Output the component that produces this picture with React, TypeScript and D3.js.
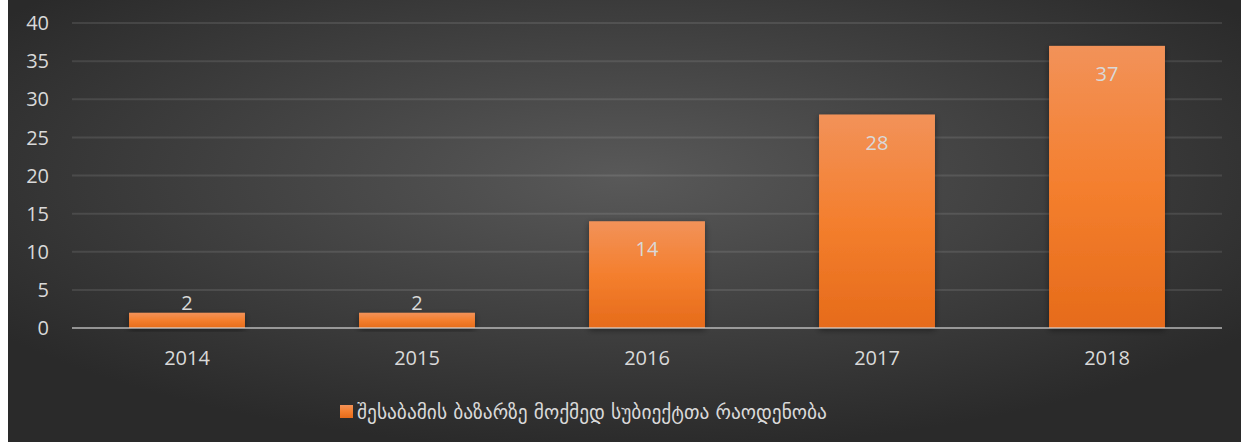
import React from "react";
import * as d3 from "d3";

const categories = ["2014", "2015", "2016", "2017", "2018"];
const values = [2, 2, 14, 28, 37];
const yTicks = [0, 5, 10, 15, 20, 25, 30, 35, 40];
const seriesName = "შესაბამის ბაზარზე მოქმედ სუბიექტთა რაოდენობა";

const W = 1233;
const H = 442;
const FONT = "'Open Sans', 'Noto Sans', sans-serif";

export default function App() {
  const x = d3.scaleBand().domain(categories).range([64, 1214]).paddingInner(0.496).paddingOuter(0.248);
  const y = d3.scaleLinear().domain([0, 40]).range([328, 23]);
  return (
    <svg width={W} height={H} style={{ position: "absolute", left: 8, top: 0 }}>
      <defs>
        <radialGradient id="bg" cx="50%" cy="40%" r="62%">
          <stop offset="0%" stopColor="#595959" />
          <stop offset="100%" stopColor="#2a2a2a" />
        </radialGradient>
        <linearGradient id="bar" x1="0" y1="0" x2="0" y2="1">
          <stop offset="0%" stopColor="#f29259" />
          <stop offset="50%" stopColor="#f47f2e" />
          <stop offset="100%" stopColor="#e66b1a" />
        </linearGradient>
        <filter id="sh" x="-20%" y="-20%" width="140%" height="140%">
          <feDropShadow dx="0" dy="2" stdDeviation="3" floodColor="#000" floodOpacity="0.45" />
        </filter>
      </defs>
      <rect width={W} height={H} fill="url(#bg)" />
      {yTicks.map((t) => (
        <g key={t}>
          {t > 0 && (
            <line x1={64} x2={1214} y1={y(t)} y2={y(t)} stroke="#ffffff" strokeOpacity={0.1} strokeWidth={2} />
          )}
          <text x={41} y={y(t)} dy="0.36em" textAnchor="end" fill="#d9d9d9" fontSize={20} fontFamily={FONT}>
            {t}
          </text>
        </g>
      ))}
      {categories.map((c, i) => (
        <rect key={c} x={x(c)} y={y(values[i])} width={x.bandwidth()} height={y(0) - y(values[i])} fill="url(#bar)" filter="url(#sh)" />
      ))}
      <line x1={64} x2={1214} y1={y(0)} y2={y(0)} stroke="#d9d9d9" strokeOpacity={0.6} strokeWidth={2} />
      {categories.map((c, i) => {
        const cx = (x(c) as number) + x.bandwidth() / 2;
        const small = values[i] < 5;
        return (
          <text key={c} x={cx} y={small ? y(values[i]) - 9.5 : y(values[i]) + 28} dy="0.36em" textAnchor="middle" fill="#d9d9d9" fontSize={20} fontFamily={FONT}>
            {values[i]}
          </text>
        );
      })}
      {categories.map((c) => (
        <text key={c} x={(x(c) as number) + x.bandwidth() / 2} y={358} dy="0.36em" textAnchor="middle" fill="#d9d9d9" fontSize={20} fontFamily={FONT}>
          {c}
        </text>
      ))}
      <rect x={332} y={405} width={13} height={13} fill="url(#bar)" />
      <text x={349} y={412} dy="0.35em" fill="#d9d9d9" fontSize={19.4} fontFamily="'DejaVu Sans', sans-serif">
        {seriesName}
      </text>
    </svg>
  );
}
